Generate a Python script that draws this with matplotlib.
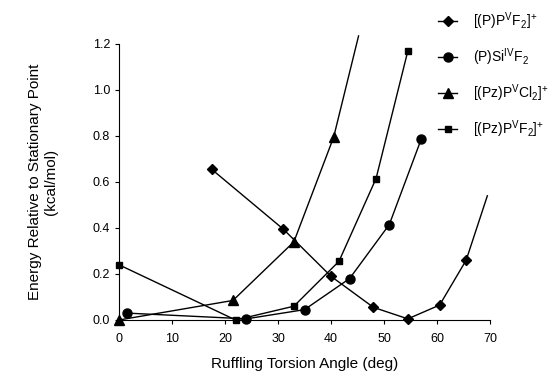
import matplotlib
matplotlib.use("Agg")
import matplotlib.pyplot as plt

plt.rcParams['font.family'] = ['Liberation Sans', 'DejaVu Sans']
plt.rcParams['mathtext.fontset'] = 'custom'
plt.rcParams['mathtext.rm'] = 'Liberation Sans'
plt.rcParams['mathtext.it'] = 'Liberation Sans'

labels = [r'[(P)P$^{\rm V}$F$_2$]$^{+}$', r'(P)Si$^{\rm IV}$F$_2$',
          r'[(Pz)P$^{\rm V}$Cl$_2$]$^{+}$', r'[(Pz)P$^{\rm V}$F$_2$]$^{+}$']

diamond_x = [17.5, 31, 40, 48, 54.5, 60.5, 65.5, 69.5]
diamond_y = [0.655, 0.395, 0.19, 0.055, 0.005, 0.065, 0.26, 0.54]
circle_x = [1.5, 24, 35, 43.5, 51, 57]
circle_y = [0.03, 0.005, 0.045, 0.18, 0.415, 0.785]
tri_x = [0, 21.5, 33, 40.5, 45.2]
tri_y = [0.0, 0.085, 0.34, 0.795, 1.235]
sq_x = [0, 22, 33, 41.5, 48.5, 54.5]
sq_y = [0.24, 0.0, 0.06, 0.255, 0.615, 1.17]

fig = plt.figure(figsize=(5.51, 3.79), dpi=100)
ax = fig.add_axes([119/551, 1-320/379, (490-119)/551, (320-44)/379])

kw = dict(color='black', lw=1.0, clip_on=False)
ax.plot(diamond_x, diamond_y, marker='D', ms=4.8, markevery=list(range(7)), label=labels[0], **kw)
ax.plot(circle_x, circle_y, marker='o', ms=6.5, label=labels[1], **kw)
ax.plot(tri_x, tri_y, marker='^', ms=6.5, markevery=list(range(4)), label=labels[2], **kw)
ax.plot(sq_x, sq_y, marker='s', ms=4.2, label=labels[3], **kw)

ax.set_xlim(0, 70)
ax.set_ylim(0, 1.2)
ax.set_xticks(range(0, 71, 10))
ax.set_yticks([0.0, 0.2, 0.4, 0.6, 0.8, 1.0, 1.2])
ax.set_yticklabels(['0.0', '0.2', '0.4', '0.6', '0.8', '1.0', '1.2'])
for s in ['top', 'right']:
    ax.spines[s].set_visible(False)
for s in ['left', 'bottom']:
    ax.spines[s].set_linewidth(0.8)
ax.tick_params(direction='out', length=3, width=0.8, labelsize=9)
ax.tick_params(axis='x', pad=6)

ax.set_xlabel('Ruffling Torsion Angle (deg)', fontsize=11, labelpad=9)
ax.set_ylabel('Energy Relative to Stationary Point\n(kcal/mol)', fontsize=11, labelpad=25)

leg = ax.legend(loc='upper left', bbox_to_anchor=(438/551, 1-10/379),
                bbox_transform=fig.transFigure, frameon=False, fontsize=10,
                handlelength=1.4, handletextpad=1.1, labelspacing=1.05,
                borderaxespad=0, borderpad=0)

fig.savefig('out.png', dpi=100)
